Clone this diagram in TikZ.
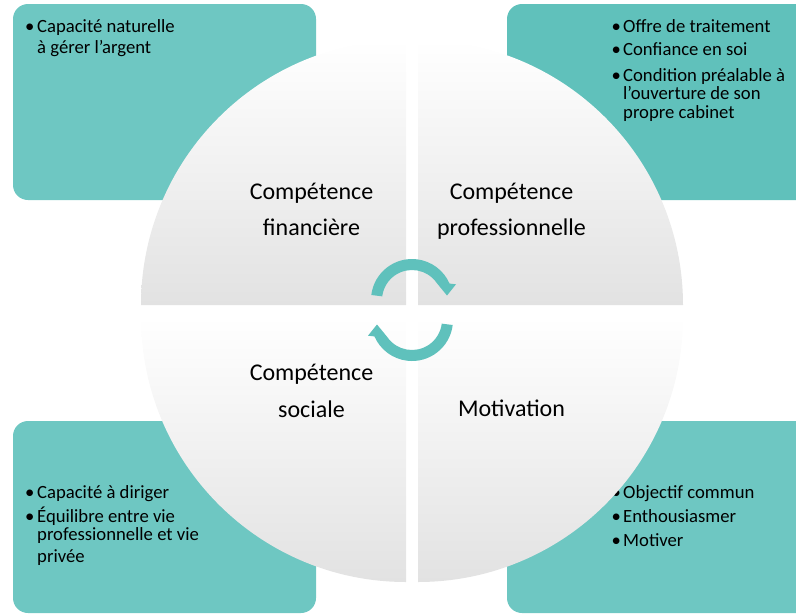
\documentclass[tikz,border=0pt]{standalone}
\usepackage{fontspec}
\setmainfont{Carlito}
\usetikzlibrary{calc}
\definecolor{tealA}{HTML}{6EC7C2}
\definecolor{tealB}{HTML}{60C1BB}
\definecolor{arrowc}{HTML}{5FC1BC}
\definecolor{quadgray}{HTML}{E2E2E2}
\begin{document}
\begin{tikzpicture}[x=1pt,y=-1pt,
  box/.style={fill=#1, rounded corners=15pt},
  quad/.style={shade, top color=white, middle color=white, bottom color=quadgray},
  lbl/.style={font=\fontsize{24}{29}\selectfont, anchor=base, inner sep=0pt},
  btxt/.style={font=\fontsize{18.67}{22}\selectfont, anchor=base west, inner sep=0pt},
  arrowband/.style={fill=arrowc}
]
\useasboundingbox (0,0) rectangle (796,614);
\clip (0,0) rectangle (796,614);

% teal boxes
\path[box=tealA] (13,4) rectangle (316,200);
\path[box=tealB] (507,4) rectangle (815,200);
\path[box=tealA] (13,421) rectangle (316,613);
\path[box=tealA] (507,421) rectangle (815,613);

% box texts: top left
\node[btxt] (b1a) at (25,32) {•};
\node[btxt] (t1a) at (37,32) {Capacité naturelle};
\node[btxt] (t1b) at (37,53) {à gérer l’argent};

% top right
\node[btxt] (b2a) at (611.5,32) {•};
\node[btxt] (t2a) at (623,32) {Offre de traitement};
\node[btxt] (b2b) at (611.5,55) {•};
\node[btxt] (t2b) at (623,55) {Confiance en soi};
\node[btxt] (b2c) at (611.5,81) {•};
\node[btxt] (t2c) at (623,81) {Condition préalable à};
\node[btxt] (t2d) at (623,99.5) {l’ouverture de son};
\node[btxt] (t2e) at (623,118) {propre cabinet};

% bottom left
\node[btxt] (b3a) at (25,498) {•};
\node[btxt] (t3a) at (37,498) {Capacité à diriger};
\node[btxt] (b3b) at (25,522) {•};
\node[btxt] (t3b) at (37,522) {Équilibre entre vie};
\node[btxt] (t3c) at (37,540.5) {professionnelle et vie};
\node[btxt] (t3d) at (37,562) {privée};

% bottom right
\node[btxt] (b4a) at (611.5,498) {•};
\node[btxt] (t4a) at (623,498) {Objectif commun};
\node[btxt] (b4b) at (611.5,522) {•};
\node[btxt] (t4b) at (623,522) {Enthousiasmer};
\node[btxt] (b4c) at (611.5,546) {•};
\node[btxt] (t4c) at (623,546) {Motiver};

% circle quadrants
\path[quad] (406,305) -- (141,305) arc[start angle=180, end angle=270, radius=265] -- cycle;
\path[quad] (418,305) -- (418,40) arc[start angle=270, end angle=360, radius=265] -- cycle;
\path[quad] (406,317) -- (406,582) arc[start angle=90, end angle=180, radius=265] -- cycle;
\path[quad] (418,317) -- (683,317) arc[start angle=0, end angle=90, radius=265] -- cycle;

% quadrant labels
\node[lbl] (q1a) at (311.5,199) {Compétence};
\node[lbl] (q1b) at (311.5,235) {financière};
\node[lbl] (q2a) at (511.5,199) {Compétence};
\node[lbl] (q2b) at (511.5,235) {professionnelle};
\node[lbl] (q3a) at (311.5,380) {Compétence};
\node[lbl] (q3b) at (311.5,417) {sociale};
\node[lbl] (q4a) at (511.5,416) {Motivation};

% circular arrows
\fill[arrowband] (371.3,295) arc[start angle=187, end angle=336.4, radius=41]
  -- (456,284.3) -- (447,295.5) -- (436.6,282.8)
  arc[start angle=325, end angle=187, radius=30] -- cycle;
\begin{scope}[rotate around={180:(412,310)}]
\fill[arrowband] (371.3,295) arc[start angle=187, end angle=336.4, radius=41]
  -- (456,284.3) -- (447,295.5) -- (436.6,282.8)
  arc[start angle=325, end angle=187, radius=30] -- cycle;
\end{scope}
\end{tikzpicture}
\end{document}
